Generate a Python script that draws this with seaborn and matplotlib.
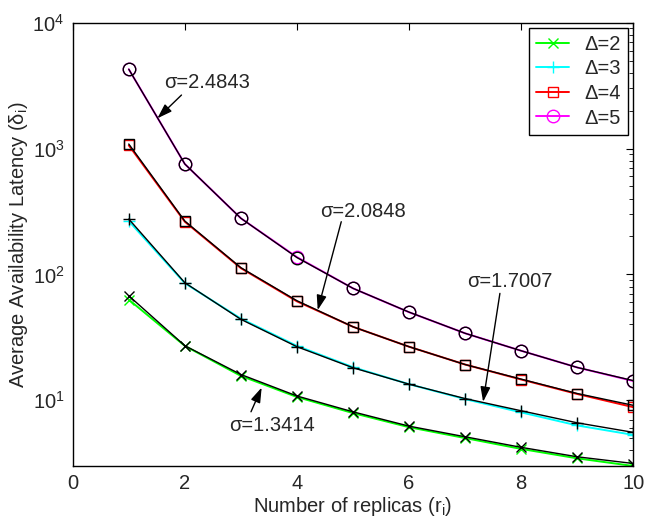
import numpy as np
import pandas as pd
import matplotlib
matplotlib.use("Agg")
import matplotlib.pyplot as plt
import seaborn as sns
from matplotlib.lines import Line2D

# replicas on the x axis
replicas = [1, 2, 3, 4, 5, 6, 7, 8, 9, 10]

# measured latency (coloured curves)
lat_d2 = [63, 27, 15.6, 10.6, 7.9, 6.1, 5.0, 4.1, 3.45, 3.0]
lat_d3 = [265, 85, 44.5, 27, 18.3, 13.4, 10.2, 8.0, 6.3, 5.3]
lat_d4 = [1060, 262, 112, 61, 38.3, 26.6, 19.2, 14.6, 11.2, 8.8]
lat_d5 = [4266, 753, 279, 137, 77.4, 50, 34, 24.7, 18.2, 14.2]

# fitted curves (black)
fit_d2 = [67.6, 27.1, 16.0, 10.8, 8.08, 6.22, 5.12, 4.22, 3.55, 3.14]
fit_d3 = [275, 85.8, 43.9, 26.6, 18.1, 13.4, 10.3, 8.24, 6.61, 5.55]
fit_d4 = [1086, 265, 113, 61.7, 38.3, 26.6, 19.2, 14.7, 11.3, 9.1]
fit_d5 = [4266, 753, 279, 136, 77.4, 50.1, 34.0, 24.7, 18.2, 14.3]

labels = ["Δ=2", "Δ=3", "Δ=4", "Δ=5"]
colors = ["#00ff00", "#00ffff", "#ff0000", "#ff00ff"]
markers = ["x", "+", "s", "o"]
msizes = [7, 9, 7.5, 9]

# sigma annotations: text, text position, arrow start, arrow tip
sigma_text = ["σ=2.4843", "σ=2.0848", "σ=1.7007", "σ=1.3414"]
sigma_xy_text = [(2.40, 3318), (5.18, 318), (7.80, 87.3), (3.56, 6.34)]
sigma_xy_start = [(1.94, 2661), (4.79, 262), (7.62, 70.6), (3.18, 8.09)]
sigma_xy_tip = [(1.51, 1738), (4.37, 52.0), (7.32, 9.71), (3.37, 12.6)]

sns.set_style("white")
plt.rcParams["font.family"] = ["Liberation Sans", "DejaVu Sans"]
plt.rcParams["mathtext.fontset"] = "custom"
plt.rcParams["mathtext.rm"] = "Liberation Sans"
plt.rcParams["mathtext.it"] = "Liberation Sans:italic"

fig = plt.figure(figsize=(6.54, 5.18), dpi=100)
ax = fig.add_axes([0.1112, 0.1004, 0.8572, 0.8558])

measured = [lat_d2, lat_d3, lat_d4, lat_d5]
fitted = [fit_d2, fit_d3, fit_d4, fit_d5]

handles = []
for meas, lab, col, mk, ms in zip(measured, labels, colors, markers, msizes):
    df = pd.DataFrame({"r": replicas, "lat": meas})
    sns.lineplot(data=df, x="r", y="lat", ax=ax, color=col, lw=1.4,
                 marker=mk, markersize=ms, markerfacecolor="none",
                 markeredgecolor=col, markeredgewidth=1.0, legend=False)
    handles.append(Line2D([], [], color=col, lw=1.4, marker=mk, markersize=ms,
                          markerfacecolor="none", markeredgecolor=col,
                          markeredgewidth=1.0, label=lab))

for fit, mk, ms in zip(fitted, markers, msizes):
    df = pd.DataFrame({"r": replicas, "lat": fit})
    sns.lineplot(data=df, x="r", y="lat", ax=ax, color="black", lw=1.0,
                 marker=mk, markersize=ms, markerfacecolor="none",
                 markeredgecolor="black", markeredgewidth=1.0, legend=False)

for txt, pt, st, tip in zip(sigma_text, sigma_xy_text, sigma_xy_start, sigma_xy_tip):
    ax.text(pt[0], pt[1], txt, fontsize=14.5, ha="center", va="center")
    ax.annotate("", xy=tip, xytext=st,
                arrowprops=dict(arrowstyle="-|>,head_length=0.9,head_width=0.3",
                                color="black", lw=1.0, shrinkA=0, shrinkB=0))

ax.set_yscale("log")
ax.set_xlim(0, 10)
ax.set_ylim(3, 1e4)
ax.set_xticks([0, 2, 4, 6, 8, 10])
ax.set_xlabel("Number of replicas (r$_\\mathrm{i}$)", fontsize=14.5, labelpad=1)
ax.set_ylabel("Average Availability Latency (δ$_\\mathrm{i}$)", fontsize=14.5, labelpad=2)

ax.tick_params(which="both", direction="in", top=True, right=True,
               labelsize=14.5, color="black")
ax.tick_params(which="major", length=5, width=0.8, pad=6)
ax.tick_params(which="minor", length=3, width=0.6)
for sp in ax.spines.values():
    sp.set_color("black")
    sp.set_linewidth(1.0)

leg = ax.legend(handles=handles, loc="upper right", bbox_to_anchor=(0.991, 0.989),
                fontsize=14.5, frameon=True, fancybox=False, edgecolor="black",
                framealpha=1, handlelength=1.6, labelspacing=0.28,
                borderpad=0.35, handletextpad=0.8, borderaxespad=0)
leg.get_frame().set_linewidth(1.0)

fig.savefig("out.png", dpi=100)
